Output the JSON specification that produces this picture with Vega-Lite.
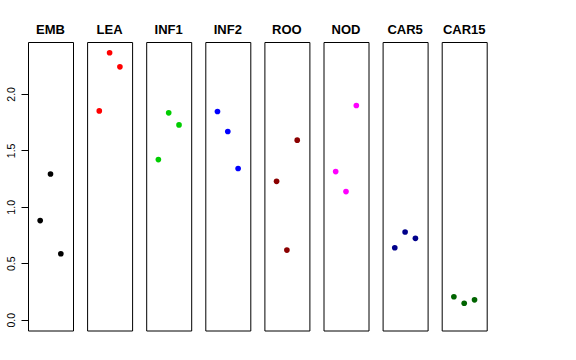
{
  "$schema": "https://vega.github.io/schema/vega-lite/v6.json",
  "padding": {"left": 6, "top": 24, "right": 5, "bottom": 5},
  "background": "white",
  "data": {"values": [
    {"panel": "EMB", "idx": 1, "value": 0.878},
    {"panel": "EMB", "idx": 2, "value": 1.291},
    {"panel": "EMB", "idx": 3, "value": 0.585},
    {"panel": "LEA", "idx": 1, "value": 1.849},
    {"panel": "LEA", "idx": 2, "value": 2.364},
    {"panel": "LEA", "idx": 3, "value": 2.239},
    {"panel": "INF1", "idx": 1, "value": 1.418},
    {"panel": "INF1", "idx": 2, "value": 1.832},
    {"panel": "INF1", "idx": 3, "value": 1.725},
    {"panel": "INF2", "idx": 1, "value": 1.844},
    {"panel": "INF2", "idx": 2, "value": 1.667},
    {"panel": "INF2", "idx": 3, "value": 1.339},
    {"panel": "ROO", "idx": 1, "value": 1.226},
    {"panel": "ROO", "idx": 2, "value": 0.617},
    {"panel": "ROO", "idx": 3, "value": 1.590},
    {"panel": "NOD", "idx": 1, "value": 1.312},
    {"panel": "NOD", "idx": 2, "value": 1.135},
    {"panel": "NOD", "idx": 3, "value": 1.897},
    {"panel": "CAR5", "idx": 1, "value": 0.638},
    {"panel": "CAR5", "idx": 2, "value": 0.777},
    {"panel": "CAR5", "idx": 3, "value": 0.721},
    {"panel": "CAR15", "idx": 1, "value": 0.204},
    {"panel": "CAR15", "idx": 2, "value": 0.147},
    {"panel": "CAR15", "idx": 3, "value": 0.177}
  ]},
  "facet": {
    "column": {
      "field": "panel",
      "type": "nominal",
      "sort": ["EMB", "LEA", "INF1", "INF2", "ROO", "NOD", "CAR5", "CAR15"],
      "title": null,
      "header": {
        "labelFont": "Liberation Sans",
        "labelFontSize": 13,
        "labelFontWeight": "bold",
        "labelColor": "black",
        "labelBaseline": "alphabetic",
        "labelPadding": -5
      }
    }
  },
  "bounds": "flush",
  "spacing": {"column": 14.1},
  "spec": {
    "width": 45,
    "height": 288.5,
    "mark": {"type": "point", "filled": true, "opacity": 1, "size": 32},
    "encoding": {
      "x": {
        "field": "idx",
        "type": "quantitative",
        "scale": {"domain": [-0.18, 4.18], "nice": false, "zero": false},
        "axis": null
      },
      "y": {
        "field": "value",
        "type": "quantitative",
        "scale": {"domain": [-0.0946, 2.459], "nice": false, "zero": false},
        "axis": {
          "title": null,
          "values": [0, 0.5, 1, 1.5, 2],
          "format": ".1f",
          "domain": false,
          "grid": false,
          "ticks": true,
          "tickSize": 7,
          "tickColor": "black",
          "labelAngle": -90,
          "labelAlign": "center",
          "labelBaseline": "bottom",
          "labelPadding": 5,
          "labelFont": "Liberation Sans",
          "labelFontSize": 10.5,
          "labelColor": "black"
        }
      },
      "color": {
        "field": "panel",
        "type": "nominal",
        "scale": {
          "domain": ["EMB", "LEA", "INF1", "INF2", "ROO", "NOD", "CAR5", "CAR15"],
          "range": ["#000000", "#FF0000", "#00CD00", "#0000FF", "#8B0000", "#FF00FF", "#00008B", "#006400"]
        },
        "legend": null
      }
    }
  },
  "config": {
    "view": {"stroke": "black", "strokeWidth": 1},
    "point": {"strokeWidth": 0}
  }
}
